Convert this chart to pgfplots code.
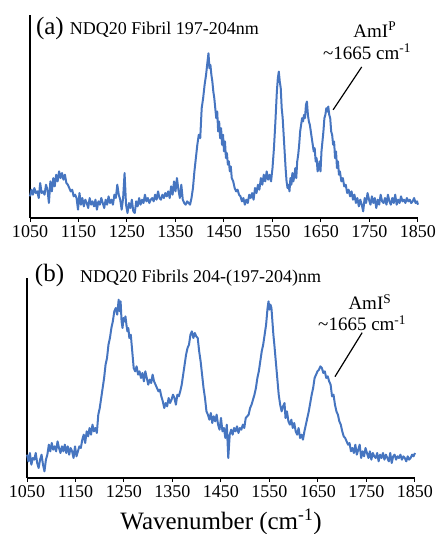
\documentclass[border=0pt]{standalone}
\usepackage{fontspec}
\setmainfont{Liberation Serif}
\usepackage{pgfplots}
\pgfplotsset{compat=1.18}
\definecolor{specblue}{RGB}{70,117,192}

\pgfplotsset{spec/.style={
    scale only axis,
    width=388pt,
    xmin=1050, xmax=1850, ymin=0,
    axis lines=left,
    axis line style={-, line width=1.3pt, black},
    xtick={1050,1150,...,1850},
    ytick=\empty,
    tick align=outside,
    major tick length=4pt,
    xtick style={black, line width=1pt},
    /pgf/number format/assume math mode=true,
    /pgf/number format/set thousands separator={},
    tick label style={font=\fontsize{18}{20}\selectfont},
    clip=false,
  }
}
\tikzset{
  curve/.style={color=specblue, line width=2pt, line join=round},
  note/.style={inner sep=0pt, font=\fontsize{19}{21}\selectfont}
}

\begin{document}
\begin{tikzpicture}
\useasboundingbox (0,0) rectangle (437pt,534pt);

% (a)
\begin{axis}[spec, at={(30pt,316pt)}, anchor=south west, height=203pt, ymax=610]
\addplot[curve] coordinates {
(1050,65) (1053,85) (1056,70) (1059,90) (1062,75) (1065,80) (1068,60) (1071,105) (1074,75) (1077,80)
(1080,70) (1083,100) (1086,85) (1089,45) (1092,110) (1095,80) (1098,120) (1101,95) (1104,130) (1107,110)
(1110,140) (1113,120) (1116,135) (1119,115) (1122,130) (1125,105) (1128,100) (1131,90) (1134,80) (1137,85)
(1140,65) (1143,70) (1146,60) (1149,25) (1152,75) (1155,40) (1158,60) (1161,35) (1164,55) (1167,45)
(1170,30) (1173,60) (1176,40) (1179,50) (1182,35) (1185,55) (1188,25) (1191,50) (1194,40) (1197,60)
(1200,45) (1203,30) (1206,55) (1209,40) (1212,65) (1215,45) (1218,55) (1221,40) (1224,70) (1227,60)
(1230,100) (1233,70) (1236,55) (1239,25) (1242,60) (1245,135) (1248,40) (1251,15) (1254,45) (1257,30)
(1260,55) (1263,20) (1266,15) (1269,50) (1272,35) (1275,60) (1278,40) (1281,55) (1284,45) (1287,70)
(1290,50) (1293,60) (1296,45) (1299,55) (1302,60) (1305,50) (1308,70) (1311,55) (1314,80) (1317,60)
(1320,55) (1323,70) (1326,60) (1329,75) (1332,65) (1335,80) (1338,60) (1341,95) (1344,70) (1347,110)
(1350,80) (1353,120) (1356,85) (1359,60) (1362,100) (1365,55) (1368,45) (1371,40) (1374,50) (1377,45)
(1380,40) (1383,60) (1386,90) (1389,140) (1392,180) (1395,220) (1398,250) (1401,240) (1404,330) (1407,360)
(1410,400) (1413,430) (1416,470) (1418,495) (1420,450) (1422,460) (1424,430) (1426,410) (1428,380) (1430,360)
(1432,330) (1434,300) (1436,320) (1438,260) (1440,290) (1442,240) (1444,270) (1446,220) (1448,250) (1450,200)
(1452,230) (1454,180) (1456,195) (1458,160) (1460,170) (1462,140) (1464,155) (1466,120) (1469,110) (1472,90)
(1475,80) (1478,85) (1481,70) (1484,65) (1487,50) (1490,60) (1493,40) (1496,55) (1499,45) (1502,70)
(1505,60) (1508,75) (1511,55) (1514,90) (1517,75) (1520,100) (1523,85) (1526,120) (1529,100) (1532,130)
(1535,110) (1538,140) (1541,115) (1544,130) (1547,110) (1550,150) (1553,210) (1556,290) (1559,380) (1561,420)
(1563,440) (1565,410) (1567,390) (1569,330) (1571,300) (1573,250) (1575,200) (1577,150) (1579,110) (1581,90)
(1583,100) (1585,80) (1587,120) (1589,100) (1591,135) (1593,110) (1595,125) (1597,150) (1599,120) (1601,170)
(1603,190) (1605,220) (1607,260) (1609,280) (1611,300) (1613,290) (1615,310) (1617,300) (1619,340) (1621,350)
(1623,310) (1625,290) (1627,280) (1629,260) (1631,240) (1633,220) (1635,200) (1637,210) (1639,170) (1641,180)
(1643,140) (1645,150) (1647,170) (1649,140) (1651,200) (1653,230) (1655,260) (1657,300) (1659,310) (1661,330)
(1663,320) (1665,335) (1667,310) (1669,300) (1671,260) (1673,250) (1675,220) (1677,230) (1679,180) (1681,200)
(1683,150) (1685,170) (1687,130) (1689,140) (1692,110) (1695,120) (1698,95) (1701,100) (1704,75) (1707,85)
(1710,65) (1713,80) (1716,55) (1719,70) (1722,45) (1725,60) (1728,35) (1731,55) (1734,40) (1737,20)
(1740,60) (1743,45) (1746,75) (1749,55) (1752,40) (1755,65) (1758,45) (1761,60) (1764,30) (1767,55)
(1770,40) (1773,70) (1776,50) (1779,45) (1782,60) (1785,40) (1788,70) (1791,50) (1794,40) (1797,60)
(1800,45) (1803,70) (1806,40) (1809,55) (1812,45) (1815,65) (1818,50) (1821,55) (1824,45) (1827,60)
(1830,50) (1833,55) (1836,45) (1839,50) (1842,60) (1845,45) (1848,50) (1850,40)
};
\node[anchor=west, inner sep=0pt, font=\fontsize{25}{27}\selectfont] at (axis cs:1062,568) {(a)};
\node[anchor=west, inner sep=0pt, font=\fontsize{18}{20}\selectfont] at (axis cs:1132,566) {NDQ20 Fibril 197-204nm};
\node[note] at (axis cs:1761,566) {AmI\textsuperscript{P}};
\node[note] at (axis cs:1745,500) {\textasciitilde1665 cm\textsuperscript{-1}};
\draw[black, line width=1.2pt] (axis cs:1734,454) -- (axis cs:1675,325);
\end{axis}

% (b)
\begin{axis}[spec, at={(27pt,56pt)}, anchor=south west, height=200pt, ymax=600,
  xlabel={Wavenumber (cm\textsuperscript{-1})},
  xlabel style={at={(axis description cs:0.5,-0.22)}, anchor=center, font=\fontsize{25}{27}\selectfont}]
\addplot[curve] coordinates {
(1050,70) (1053,50) (1056,75) (1059,40) (1062,60) (1065,55) (1068,75) (1071,45) (1074,30) (1077,55)
(1080,70) (1083,40) (1086,20) (1089,55) (1092,70) (1095,100) (1098,80) (1101,105) (1104,85) (1107,95)
(1110,80) (1113,110) (1116,90) (1119,75) (1122,95) (1125,80) (1128,100) (1131,75) (1134,95) (1137,70)
(1140,90) (1143,80) (1146,60) (1149,95) (1152,65) (1155,80) (1158,95) (1161,90) (1164,115) (1167,130)
(1170,105) (1173,140) (1176,125) (1179,150) (1182,130) (1185,160) (1188,140) (1191,150) (1194,135) (1197,190)
(1200,210) (1203,240) (1206,270) (1209,300) (1212,340) (1215,360) (1218,400) (1221,420) (1224,450) (1227,470)
(1230,500) (1233,510) (1236,490) (1239,535) (1241,500) (1243,530) (1245,470) (1247,450) (1249,480) (1251,470)
(1253,485) (1255,460) (1257,440) (1259,450) (1261,420) (1264,430) (1267,380) (1270,330) (1273,320) (1276,335)
(1279,310) (1282,320) (1285,300) (1288,315) (1291,290) (1294,320) (1297,300) (1300,280) (1303,295) (1306,285)
(1309,310) (1312,290) (1315,280) (1318,270) (1321,260) (1324,265) (1327,245) (1330,230) (1333,210) (1336,225)
(1339,215) (1342,240) (1345,225) (1348,235) (1351,250) (1354,240) (1357,220) (1360,250) (1363,245) (1366,260)
(1369,280) (1372,310) (1375,340) (1378,370) (1381,390) (1384,400) (1387,430) (1390,440) (1393,420) (1396,435)
(1399,425) (1402,420) (1405,380) (1408,350) (1411,310) (1414,270) (1417,240) (1420,200) (1423,190) (1426,175)
(1429,195) (1432,165) (1435,185) (1438,170) (1441,190) (1444,160) (1447,145) (1450,180) (1453,140) (1456,150)
(1459,120) (1462,160) (1465,60) (1468,130) (1471,145) (1474,130) (1477,150) (1480,140) (1483,155) (1486,135)
(1489,150) (1492,145) (1495,160) (1498,150) (1501,180) (1504,185) (1507,190) (1510,210) (1513,220) (1516,235)
(1519,250) (1522,270) (1525,300) (1528,320) (1531,350) (1534,380) (1537,400) (1540,430) (1543,460) (1546,510)
(1548,530) (1550,505) (1552,520) (1554,510) (1556,470) (1558,430) (1560,400) (1563,350) (1566,300) (1569,250)
(1572,220) (1575,200) (1578,215) (1581,225) (1583,180) (1586,200) (1589,170) (1592,160) (1595,175) (1598,150)
(1601,165) (1604,140) (1607,130) (1610,150) (1613,120) (1616,130) (1619,115) (1622,140) (1625,160) (1628,180)
(1631,200) (1634,225) (1637,250) (1640,270) (1643,300) (1646,310) (1649,320) (1652,325) (1655,335) (1658,330)
(1661,315) (1664,320) (1667,300) (1670,305) (1673,290) (1676,280) (1679,245) (1682,250) (1685,220) (1688,200)
(1691,190) (1694,170) (1697,160) (1700,140) (1703,125) (1706,120) (1709,110) (1712,100) (1715,105) (1718,80)
(1721,90) (1724,75) (1727,100) (1730,70) (1733,85) (1736,100) (1739,60) (1742,80) (1745,65) (1748,90)
(1751,75) (1754,60) (1757,80) (1760,55) (1763,75) (1766,65) (1769,60) (1772,75) (1775,50) (1778,70)
(1781,60) (1784,75) (1787,55) (1790,70) (1793,60) (1796,50) (1799,75) (1802,45) (1805,65) (1808,70)
(1811,55) (1814,65) (1817,60) (1820,70) (1823,55) (1826,65) (1829,60) (1832,50) (1835,65) (1838,55)
(1841,60) (1844,70) (1847,65) (1850,75)
};
\node[anchor=west, inner sep=0pt, font=\fontsize{25}{27}\selectfont] at (axis cs:1066,607) {(b)};
\node[anchor=west, inner sep=0pt, font=\fontsize{18}{20}\selectfont] at (axis cs:1159,598) {NDQ20 Fibrils 204-(197-204)nm};
\node[note] at (axis cs:1757,528) {AmI\textsuperscript{S}};
\node[note] at (axis cs:1741,464) {\textasciitilde1665 cm\textsuperscript{-1}};
\draw[black, line width=1.2pt] (axis cs:1741,436) -- (axis cs:1685,304);
\end{axis}
\end{tikzpicture}
\end{document}
